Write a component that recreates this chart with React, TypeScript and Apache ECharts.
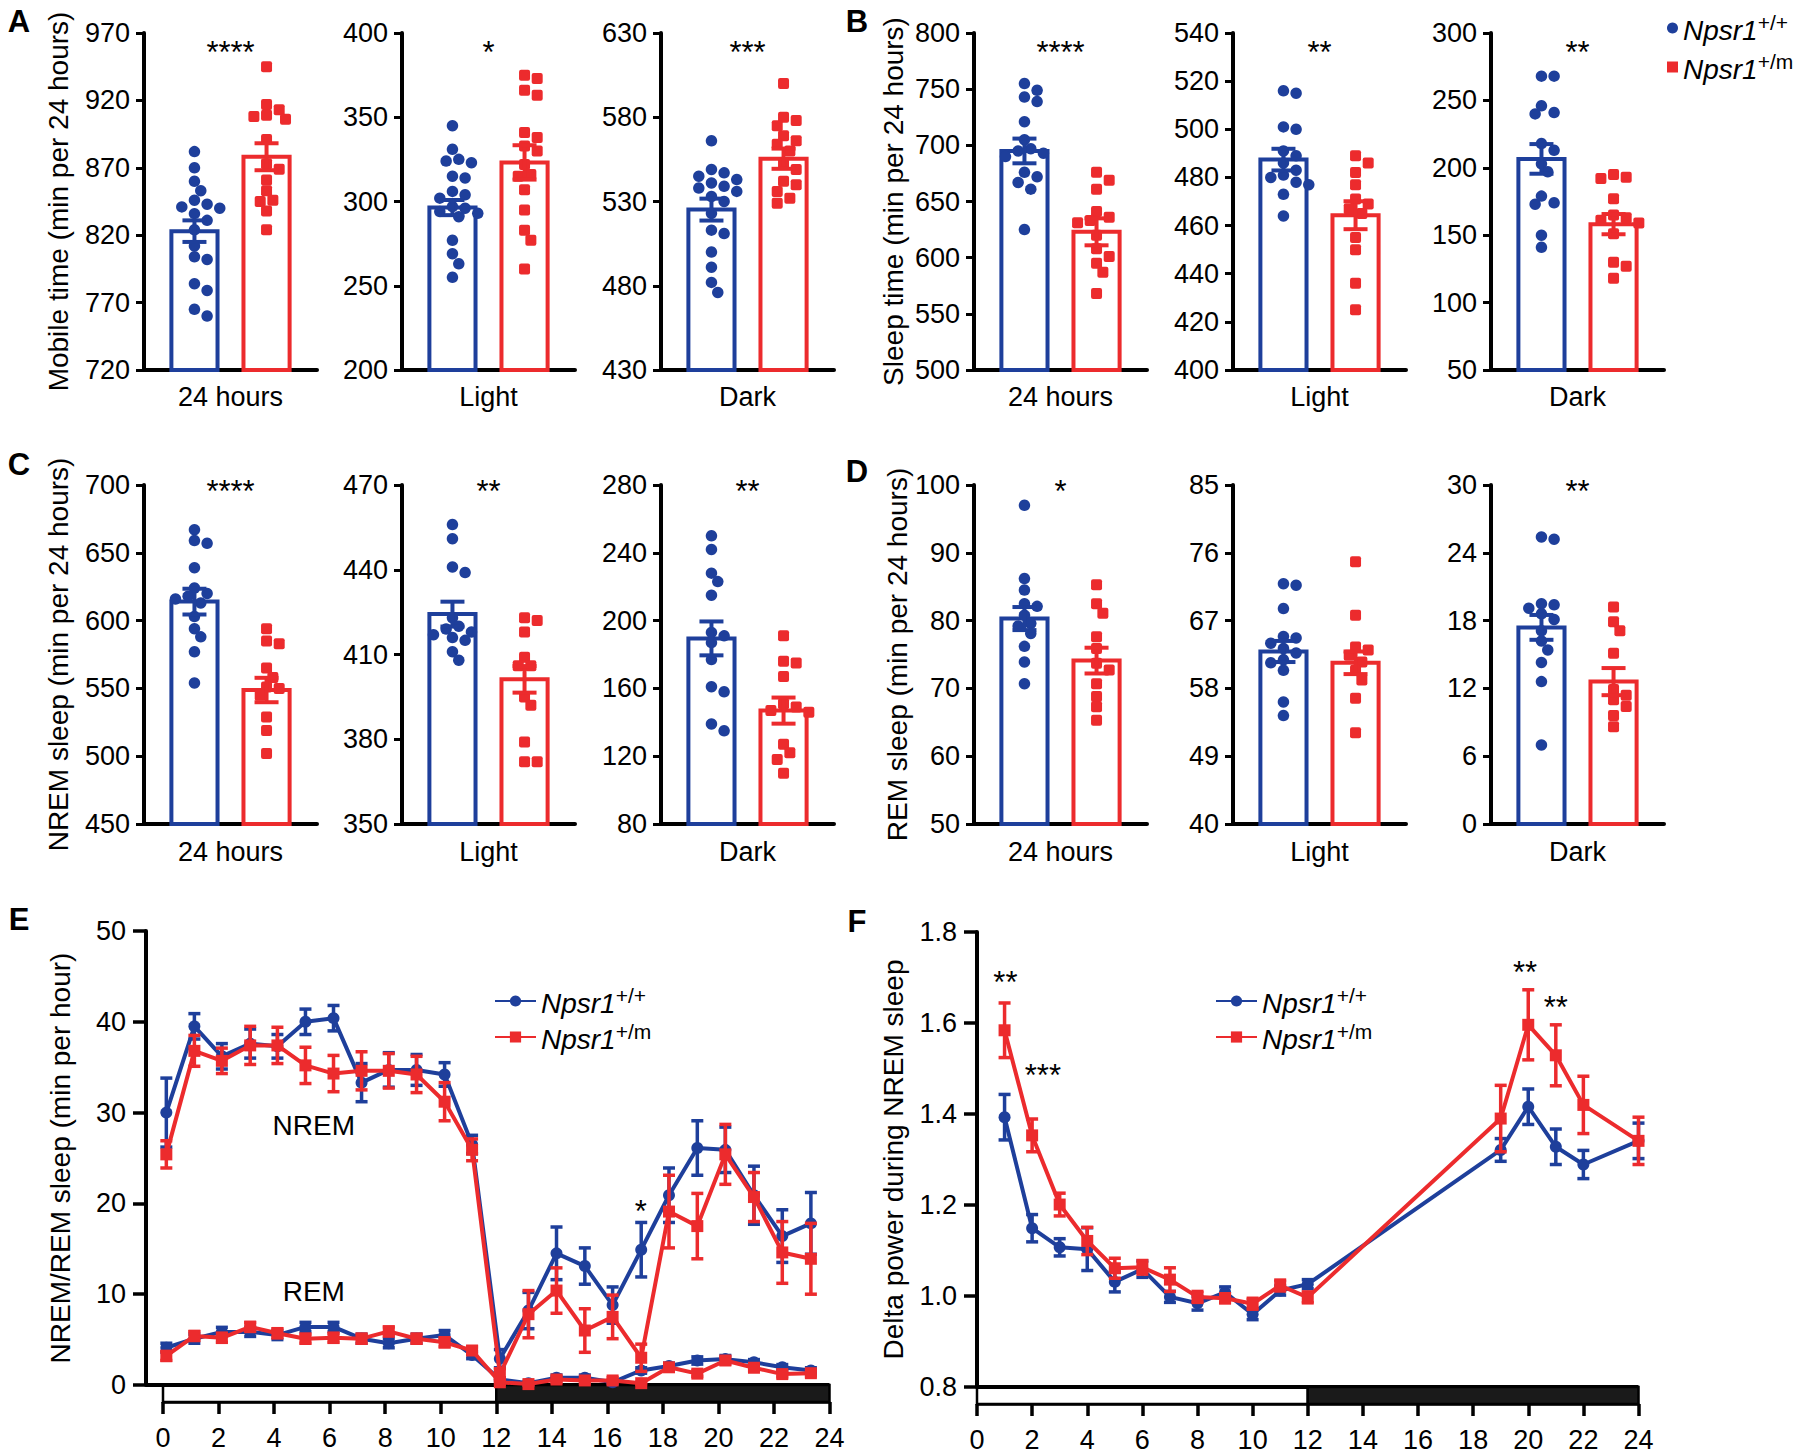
import React, { useEffect, useRef } from 'react';
import * as echarts from 'echarts';

const FONT = '"Liberation Sans", Arial, Helvetica, sans-serif';
const BLUE = '#1e3f9b';
const RED = '#ec2b2d';

const PERIODS = ['24 hours', 'Light', 'Dark'];

// ---------- Panel A: mobile time ----------
const A_TITLE = 'Mobile time (min per 24 hours)';
const A_MIN = [720, 200, 430];
const A_MAX = [970, 400, 630];
const A_STEP = [50, 50, 50];
const A_SIG = ['****', '*', '***'];
const A_WT_MEAN = [823, 296.4, 525.2];
const A_WT_SEM = [8, 4.5, 6.5];
const A_MUT_MEAN = [878.2, 323.2, 555.4];
const A_MUT_SEM = [10, 10.2, 6];
const A_WT_24H = [882, 870, 860, 853, 846, 843, 841, 840, 836, 831, 824, 812, 804, 802, 784, 779, 765, 760];
const A_MUT_24H = [945, 917, 913, 909, 908, 906, 891, 873, 869, 861, 853, 846, 845, 838, 824];
const A_WT_LIGHT = [345, 331, 325, 324, 323, 315, 314, 306, 304, 302, 297, 296, 294, 293, 291, 277, 269, 263, 255];
const A_MUT_LIGHT = [375, 373, 366, 363, 341, 338, 333, 330, 322, 316, 315, 307, 295, 283, 277, 260];
const A_WT_DARK = [566, 549, 547, 545, 543, 541, 539, 538, 536, 533, 530, 523, 513, 511, 500, 491, 482, 476];
const A_MUT_DARK = [600, 580, 578, 575, 569, 566, 564, 560, 553, 549, 542, 540, 536, 532, 529];

// ---------- Panel B: sleep time ----------
const B_TITLE = 'Sleep time (min per 24 hours)';
const B_MIN = [500, 400, 50];
const B_MAX = [800, 540, 300];
const B_STEP = [50, 20, 50];
const B_SIG = ['****', '**', '**'];
const B_WT_MEAN = [695, 487.4, 206.6];
const B_WT_SEM = [11, 4.5, 11];
const B_MUT_MEAN = [623, 464.3, 158.2];
const B_MUT_SEM = [12, 5.8, 7.5];
const B_WT_24H = [755, 749, 743, 739, 721, 705, 697, 695, 693, 690, 676, 672, 667, 661, 625];
const B_MUT_24H = [676, 669, 661, 641, 636, 633, 631, 620, 608, 601, 595, 587, 568];
const B_WT_LIGHT = [516, 515, 501, 500, 491, 489, 486, 483, 481, 480, 478, 477, 473, 464];
const B_MUT_LIGHT = [489, 486, 482, 477, 471, 469, 467, 465, 455, 450, 436, 425];
const B_WT_DARK = [268, 268, 246, 241, 240, 218, 213, 203, 197, 179, 174, 173, 150, 141];
const B_MUT_DARK = [195, 193, 192, 177, 165, 163, 161, 159, 151, 130, 127, 118];

// ---------- Panel C: NREM sleep ----------
const C_TITLE = 'NREM sleep (min per 24 hours)';
const C_MIN = [450, 350, 80];
const C_MAX = [700, 470, 280];
const C_STEP = [50, 30, 40];
const C_SIG = ['****', '**', '**'];
const C_WT_MEAN = [614, 424.3, 189.5];
const C_WT_SEM = [9.5, 4.4, 10];
const C_MUT_MEAN = [548.8, 401.2, 146.9];
const C_MUT_SEM = [9, 4.7, 7.7];
const C_WT_24H = [667, 659, 657, 639, 624, 620, 618, 616, 613, 603, 594, 588, 577, 554];
const C_MUT_24H = [594, 585, 583, 565, 558, 551, 550, 545, 529, 519, 502];
const C_WT_LIGHT = [456, 451, 441, 439, 423, 420, 419, 418, 417, 416, 415, 411, 408];
const C_MUT_LIGHT = [423, 422, 418, 409, 406, 406, 395, 392, 379, 372, 372];
const C_WT_DARK = [250, 242, 228, 223, 215, 193, 191, 187, 177, 161, 158, 139, 135];
const C_MUT_DARK = [191, 176, 175, 167, 151, 149, 147, 146, 127, 122, 118, 110];

// ---------- Panel D: REM sleep ----------
const D_TITLE = 'REM sleep (min per 24 hours)';
const D_MIN = [50, 40, 0];
const D_MAX = [100, 85, 30];
const D_STEP = [10, 9, 6];
const D_SIG = ['*', '', '**'];
const D_WT_MEAN = [80.3, 62.9, 17.4];
const D_WT_SEM = [1.7, 1.4, 1.1];
const D_MUT_MEAN = [74.1, 61.4, 12.6];
const D_MUT_SEM = [1.9, 1.5, 1.2];
const D_WT_24H = [97, 86.2, 84.5, 82.5, 82.1, 80.8, 79.6, 79.2, 78.1, 76.2, 73.9, 70.7];
const D_MUT_24H = [85.3, 82.5, 81.1, 77.6, 75.9, 73.7, 72.7, 70.7, 68.8, 67.3, 65.3];
const D_WT_LIGHT = [71.9, 71.7, 68.6, 64.9, 64.7, 64, 63.3, 62.7, 61.8, 61.4, 60.4, 56.2, 54.4];
const D_MUT_LIGHT = [74.8, 67.7, 63.5, 63.1, 62.4, 61.5, 60.4, 59.1, 56.7, 52.1];
const D_WT_DARK = [25.4, 25.2, 19.5, 19.4, 19.1, 18.6, 18.1, 17.1, 16.2, 15.4, 14.3, 12.6, 7.0];
const D_MUT_DARK = [19.2, 17.9, 17.1, 15.1, 11.9, 11.4, 11.0, 10.4, 9.6, 8.6];

// ---------- Panel E: hourly NREM / REM ----------
const E_TITLE = 'NREM/REM sleep (min per hour)';
const E_HOURS = [0.12, 1.13, 2.12, 3.14, 4.12, 5.13, 6.14, 7.15, 8.13, 9.13, 10.14, 11.13, 12.13, 13.16, 14.17, 15.19, 16.19, 17.22, 18.22, 19.24, 20.25, 21.28, 22.3, 23.33];
const E_WT_NREM = [30.0, 39.5, 36.2, 37.6, 37.3, 40.0, 40.4, 33.3, 34.7, 34.7, 34.2, 26.5, 2.9, 8.2, 14.5, 13.1, 8.8, 14.9, 20.9, 26.1, 25.9, 20.9, 16.4, 17.8];
const E_WT_NREM_SEM = [3.8, 1.4, 1.4, 1.6, 1.3, 1.4, 1.4, 2.1, 1.9, 1.7, 1.3, 1.0, 1.0, 2.0, 2.9, 2.0, 2.0, 3.0, 3.0, 3.0, 2.5, 3.2, 2.9, 3.4];
const E_MUT_NREM = [25.4, 36.8, 35.7, 37.4, 37.4, 35.2, 34.3, 34.6, 34.6, 34.2, 31.2, 25.9, 1.2, 7.8, 10.4, 6.0, 7.5, 3.0, 19.1, 17.5, 25.4, 20.7, 14.6, 13.9];
const E_MUT_NREM_SEM = [1.5, 1.7, 1.4, 2.1, 2.0, 2.0, 2.0, 2.1, 1.9, 2.0, 2.1, 1.2, 0.6, 2.6, 2.5, 2.4, 2.4, 1.5, 4.0, 3.6, 3.3, 2.7, 3.4, 3.9];
const E_WT_REM = [4.1, 5.1, 5.85, 5.85, 5.5, 6.4, 6.4, 5.1, 4.6, 5.1, 5.5, 3.3, 0.6, 0.2, 0.8, 0.8, 0.3, 1.6, 2.1, 2.7, 2.85, 2.5, 1.95, 1.6];
const E_WT_REM_SEM = [0.5, 0.5, 0.5, 0.5, 0.5, 0.5, 0.5, 0.5, 0.5, 0.5, 0.5, 0.4, 0.2, 0.2, 0.3, 0.3, 0.2, 0.3, 0.3, 0.4, 0.4, 0.3, 0.3, 0.3];
const E_MUT_REM = [3.2, 5.4, 5.2, 6.4, 5.7, 5.1, 5.2, 5.1, 5.9, 5.1, 4.7, 3.8, 0.3, 0.1, 0.6, 0.5, 0.5, 0.2, 1.95, 1.25, 2.7, 1.9, 1.2, 1.3];
const E_MUT_REM_SEM = [0.5, 0.5, 0.5, 0.5, 0.5, 0.5, 0.5, 0.5, 0.5, 0.5, 0.5, 0.4, 0.2, 0.1, 0.3, 0.3, 0.3, 0.1, 0.3, 0.3, 0.4, 0.3, 0.3, 0.3];

// ---------- Panel F: delta power ----------
const F_TITLE = 'Delta power during NREM sleep';
const F_HOURS = [1, 2, 3, 4, 5, 6, 7, 8, 9, 10, 11, 12, 19, 20, 21, 22, 24];
const F_WT = [1.393, 1.149, 1.107, 1.103, 1.031, 1.059, 0.998, 0.984, 1.008, 0.960, 1.012, 1.026, 1.321, 1.416, 1.328, 1.289, 1.341];
const F_WT_SEM = [0.05, 0.03, 0.019, 0.047, 0.022, 0.018, 0.012, 0.015, 0.012, 0.012, 0.01, 0.01, 0.025, 0.039, 0.039, 0.031, 0.039];
const F_MUT = [1.584, 1.353, 1.201, 1.121, 1.061, 1.063, 1.036, 0.998, 0.995, 0.983, 1.023, 0.997, 1.390, 1.596, 1.529, 1.420, 1.341];
const F_MUT_SEM = [0.06, 0.036, 0.025, 0.03, 0.022, 0.015, 0.026, 0.012, 0.01, 0.012, 0.012, 0.012, 0.073, 0.077, 0.067, 0.063, 0.052];

// light / dark phases (start hour, end hour, dark flag)
const LD_PHASES = [[0, 12, 0], [12, 24, 1]];

// annotation layout (data coordinates of the texts)
const E_NOTES = [
  { text: 'NREM', x: 5.43, y: 28.6, star: false },
  { text: 'REM', x: 5.43, y: 10.35, star: false },
  { text: '*', x: 17.2, y: 19.9, star: true },
];
const F_NOTES = [
  { text: '**', x: 1.03, y: 1.705, star: true },
  { text: '***', x: 2.39, y: 1.499, star: true },
  { text: '**', x: 19.88, y: 1.726, star: true },
  { text: '**', x: 21.0, y: 1.65, star: true },
];

const PANELS = [
  { title: A_TITLE, min: A_MIN, max: A_MAX, step: A_STEP, sig: A_SIG, wtMean: A_WT_MEAN, wtSem: A_WT_SEM, mutMean: A_MUT_MEAN, mutSem: A_MUT_SEM, wtDots: [A_WT_24H, A_WT_LIGHT, A_WT_DARK], mutDots: [A_MUT_24H, A_MUT_LIGHT, A_MUT_DARK], row: 0, col: 0, nameGap: 72 },
  { title: B_TITLE, min: B_MIN, max: B_MAX, step: B_STEP, sig: B_SIG, wtMean: B_WT_MEAN, wtSem: B_WT_SEM, mutMean: B_MUT_MEAN, mutSem: B_MUT_SEM, wtDots: [B_WT_24H, B_WT_LIGHT, B_WT_DARK], mutDots: [B_MUT_24H, B_MUT_LIGHT, B_MUT_DARK], row: 0, col: 3, nameGap: 67 },
  { title: C_TITLE, min: C_MIN, max: C_MAX, step: C_STEP, sig: C_SIG, wtMean: C_WT_MEAN, wtSem: C_WT_SEM, mutMean: C_MUT_MEAN, mutSem: C_MUT_SEM, wtDots: [C_WT_24H, C_WT_LIGHT, C_WT_DARK], mutDots: [C_MUT_24H, C_MUT_LIGHT, C_MUT_DARK], row: 1, col: 0, nameGap: 72 },
  { title: D_TITLE, min: D_MIN, max: D_MAX, step: D_STEP, sig: D_SIG, wtMean: D_WT_MEAN, wtSem: D_WT_SEM, mutMean: D_MUT_MEAN, mutSem: D_MUT_SEM, wtDots: [D_WT_24H, D_WT_LIGHT, D_WT_DARK], mutDots: [D_MUT_24H, D_MUT_LIGHT, D_MUT_DARK], row: 1, col: 3, nameGap: 63 },
];

// ---------- layout ----------
const COL_X = [144, 402, 661, 974, 1233, 1491];
const ROW_TOP = [33, 485];
const ROW_H = [337, 339];
const GRID_W = 173;
const X_MIN = -0.7;
const X_MAX = 1.7;
const BAR_W = 0.64;
const DOT = 11.5;
const SQ = 11;
const SIG_DY = [19.5, 6];
const LD_H = 17;
const E_YOFF = 17;
const TICK_FS = 27;
const CAT_FS = 27;
const TITLE_FS = 28;
const NOTE_FS = 28;
const STAR_FS = 31;

function beeswarm(cx: number, ys: number[]): number[] {
  const step = DOT * 0.55;
  const order = ys.map((_, i) => i).sort((a, b) => ys[a] - ys[b]);
  const placed: number[][] = [];
  const xs: number[] = new Array(ys.length).fill(cx);
  for (const i of order) {
    const y = ys[i];
    let x = cx;
    for (let k = 0; k < 40; k++) {
      const off = (k % 2 === 1 ? 1 : -1) * Math.ceil(k / 2) * step;
      const tx = cx + off;
      if (placed.every((p) => Math.hypot(p[0] - tx, p[1] - y) >= DOT * 0.88)) {
        x = tx;
        break;
      }
    }
    placed.push([x, y]);
    xs[i] = x;
  }
  return xs;
}

function seg(x1: number, y1: number, x2: number, y2: number, color: string, w: number) {
  return { type: 'line', shape: { x1, y1, x2, y2 }, style: { stroke: color, lineWidth: w } };
}

function barSeries(P: any, k: number, g: number, gi: number) {
  const color = g === 0 ? BLUE : RED;
  const mean = g === 0 ? P.wtMean[k] : P.mutMean[k];
  const sem = g === 0 ? P.wtSem[k] : P.mutSem[k];
  const dots = g === 0 ? P.wtDots[k] : P.mutDots[k];
  const ymin = P.min[k];
  const ymax = P.max[k];
  const sig = P.sig[k];
  return {
    type: 'custom',
    name: g === 0 ? 'bar_wt' : 'bar_mut',
    xAxisIndex: gi,
    yAxisIndex: gi,
    clip: false,
    silent: true,
    itemStyle: { color },
    data: [[g, mean, sem]],
    renderItem: (params: any, api: any) => {
      const gx = api.value(0);
      const m = api.value(1);
      const e = api.value(2);
      const base = api.coord([gx, ymin]);
      const top = api.coord([gx, m]);
      const w = api.size([BAR_W, 0])[0];
      const children: any[] = [];
      children.push({
        type: 'rect',
        shape: { x: base[0] - w / 2, y: top[1], width: w, height: base[1] - top[1] },
        style: { fill: '#ffffff', stroke: color, lineWidth: 4 },
      });
      const ys = dots.map((v: number) => api.coord([gx, v])[1]);
      const xs = beeswarm(base[0], ys);
      ys.forEach((y: number, i: number) => {
        if (g === 0) {
          children.push({ type: 'circle', shape: { cx: xs[i], cy: y, r: DOT / 2 }, style: { fill: color } });
        } else {
          children.push({ type: 'rect', shape: { x: xs[i] - SQ / 2, y: y - SQ / 2, width: SQ, height: SQ, r: 2 }, style: { fill: color } });
        }
      });
      const hi = api.coord([gx, m + e])[1];
      const lo = api.coord([gx, m - e])[1];
      const cw = 12;
      children.push(seg(base[0], hi, base[0], lo, color, 4));
      children.push(seg(base[0] - cw, hi, base[0] + cw, hi, color, 4));
      children.push(seg(base[0] - cw, lo, base[0] + cw, lo, color, 4));
      if (g === 0 && sig) {
        const c = api.coord([(X_MIN + X_MAX) / 2, ymax]);
        children.push({
          type: 'text',
          x: c[0],
          y: c[1] + SIG_DY[P.row],
          style: { text: sig, font: `${STAR_FS}px ${FONT}`, fill: '#000', align: 'center', verticalAlign: 'middle', textAlign: 'center', textVerticalAlign: 'middle' },
        });
      }
      return { type: 'group', children };
    },
  };
}

function lineSeries(name: string, gi: number, xs: number[], ys: number[], color: string, symbol: string, z: number) {
  return {
    type: 'line',
    name,
    xAxisIndex: gi,
    yAxisIndex: gi,
    data: xs.map((x, i) => [x, ys[i]]),
    symbol,
    symbolSize: 12,
    showSymbol: true,
    lineStyle: { color, width: 4 },
    itemStyle: { color },
    z,
    silent: true,
  };
}

function errSeries(gi: number, xs: number[], ys: number[], es: number[], color: string, z: number) {
  return {
    type: 'custom',
    name: 'err',
    xAxisIndex: gi,
    yAxisIndex: gi,
    z,
    clip: false,
    silent: true,
    data: xs.map((x, i) => [x, ys[i], es[i]]),
    renderItem: (params: any, api: any) => {
      const x = api.value(0);
      const m = api.value(1);
      const e = api.value(2);
      const hi = api.coord([x, m + e]);
      const lo = api.coord([x, m - e]);
      const cw = 6;
      return {
        type: 'group',
        children: [
          seg(hi[0], hi[1], lo[0], lo[1], color, 3.5),
          seg(hi[0] - cw, hi[1], hi[0] + cw, hi[1], color, 3.5),
          seg(lo[0] - cw, lo[1], lo[0] + cw, lo[1], color, 3.5),
        ],
      };
    },
  };
}

function ldSeries(gi: number, ymin: number, yoff: number) {
  return {
    type: 'custom',
    name: 'ld',
    xAxisIndex: gi,
    yAxisIndex: gi,
    z: 1,
    clip: false,
    silent: true,
    data: LD_PHASES,
    renderItem: (params: any, api: any) => {
      const x0 = api.value(0);
      const x1 = api.value(1);
      const dark = api.value(2);
      const p0 = api.coord([x0, ymin]);
      const p1 = api.coord([x1, ymin]);
      const children: any[] = [
        {
          type: 'rect',
          shape: { x: p0[0], y: p0[1], width: p1[0] - p0[0], height: LD_H },
          style: { fill: dark ? '#1a1a1a' : '#ffffff', stroke: '#000', lineWidth: 2.5 },
        },
      ];
      if (!dark) {
        const pe = api.coord([LD_PHASES[LD_PHASES.length - 1][1], ymin]);
        children.push(seg(p0[0] - yoff, p0[1], pe[0], p0[1], '#000', 4));
      }
      return { type: 'group', children };
    },
  };
}

function noteSeries(gi: number, notes: any[]) {
  return {
    type: 'custom',
    name: 'notes',
    xAxisIndex: gi,
    yAxisIndex: gi,
    z: 5,
    clip: false,
    silent: true,
    data: notes.map((n, i) => [n.x, n.y, i]),
    renderItem: (params: any, api: any) => {
      const n = notes[api.value(2)];
      const c = api.coord([api.value(0), api.value(1)]);
      const fs = n.star ? STAR_FS : NOTE_FS;
      return {
        type: 'text',
        x: c[0],
        y: c[1] + (n.star ? 7 : 0),
        style: { text: n.text, font: `${fs}px ${FONT}`, fill: '#000', align: 'center', verticalAlign: 'middle', textAlign: 'center', textVerticalAlign: 'middle' },
      };
    },
  };
}

const LEGEND_RICH = {
  i: { fontFamily: FONT, fontSize: 28, fontStyle: 'italic', color: '#000', lineHeight: 32, verticalAlign: 'bottom' },
  s: { fontFamily: FONT, fontSize: 21, color: '#000', lineHeight: 21, verticalAlign: 'top' },
};
const legendFmt = (name: string) => (name.endsWith('wt') ? '{i|Npsr1}{s|+/+}' : '{i|Npsr1}{s|+/m}');

function buildOption() {
  const grid: any[] = [];
  const xAxis: any[] = [];
  const yAxis: any[] = [];
  const series: any[] = [];
  const tickText = { fontFamily: FONT, fontSize: TICK_FS, color: '#000' };
  const catText = { fontFamily: FONT, fontSize: CAT_FS, color: '#000' };
  const titleText = { fontFamily: FONT, fontSize: TITLE_FS, color: '#000' };

  PANELS.forEach((P, p) => {
    for (let k = 0; k < 3; k++) {
      const gi = p * 3 + k;
      grid.push({ left: COL_X[P.col + k], top: ROW_TOP[P.row], width: GRID_W, height: ROW_H[P.row], outerBoundsMode: 'none', containLabel: false });
      xAxis.push({
        gridIndex: gi,
        type: 'value',
        min: X_MIN,
        max: X_MAX,
        axisLine: { show: true, onZero: false, lineStyle: { color: '#000', width: 4 } },
        axisTick: { show: false },
        axisLabel: { show: false },
        splitLine: { show: false },
        name: PERIODS[k],
        nameLocation: 'middle',
        nameGap: P.row === 0 ? 13.5 : 14.5,
        nameMoveOverlap: false,
        nameTextStyle: catText,
      });
      yAxis.push({
        gridIndex: gi,
        type: 'value',
        min: P.min[k],
        max: P.max[k],
        interval: P.step[k],
        axisLine: { show: true, onZero: false, lineStyle: { color: '#000', width: 4 } },
        axisTick: { show: true, length: 8, lineStyle: { color: '#000', width: 3 } },
        axisLabel: { margin: 14, ...tickText },
        splitLine: { show: false },
        name: k === 0 ? P.title : '',
        nameLocation: 'middle',
        nameGap: P.nameGap,
        nameMoveOverlap: false,
        nameTextStyle: titleText,
      });
      series.push(barSeries(P, k, 0, gi));
      series.push(barSeries(P, k, 1, gi));
    }
  });

  // Panel E (grid 12) and F (grid 13)
  const lineGrids = [
    { left: 163, top: 931, width: 666.5, height: 454, ymin: 0, ymax: 50, step: 10, title: E_TITLE, yoff: E_YOFF, nameGap: 72, dec: 0 },
    { left: 977, top: 932, width: 661.5, height: 455, ymin: 0.8, ymax: 1.8, step: 0.2, title: F_TITLE, yoff: 0, nameGap: 70, dec: 1 },
  ];
  lineGrids.forEach((L, j) => {
    const gi = 12 + j;
    grid.push({ left: L.left, top: L.top, width: L.width, height: L.height, outerBoundsMode: 'none', containLabel: false });
    xAxis.push({
      gridIndex: gi,
      type: 'value',
      min: 0,
      max: 24,
      interval: 2,
      offset: LD_H,
      axisLine: { show: true, onZero: false, lineStyle: { color: '#000', width: 2.5 } },
      axisTick: { show: true, length: 12, lineStyle: { color: '#000', width: 3.5 } },
      axisLabel: { margin: 22, ...tickText },
      splitLine: { show: false },
    });
    yAxis.push({
      gridIndex: gi,
      type: 'value',
      min: L.ymin,
      max: L.ymax,
      interval: L.step,
      offset: L.yoff,
      axisLine: { show: true, onZero: false, lineStyle: { color: '#000', width: 4 } },
      axisTick: { show: true, length: 13, lineStyle: { color: '#000', width: 3.5 } },
      axisLabel: { margin: 20, ...tickText, formatter: (v: number) => v.toFixed(L.dec) },
      splitLine: { show: false },
      name: L.title,
      nameLocation: 'middle',
      nameGap: L.nameGap,
      nameMoveOverlap: false,
      nameTextStyle: titleText,
    });
    series.push(ldSeries(gi, L.ymin, L.yoff));
  });

  // E series
  series.push(errSeries(12, E_HOURS, E_WT_NREM, E_WT_NREM_SEM, BLUE, 3));
  series.push(errSeries(12, E_HOURS, E_WT_REM, E_WT_REM_SEM, BLUE, 3));
  series.push(lineSeries('E_wt', 12, E_HOURS, E_WT_NREM, BLUE, 'circle', 3));
  series.push(lineSeries('E_wt', 12, E_HOURS, E_WT_REM, BLUE, 'circle', 3));
  series.push(errSeries(12, E_HOURS, E_MUT_NREM, E_MUT_NREM_SEM, RED, 4));
  series.push(errSeries(12, E_HOURS, E_MUT_REM, E_MUT_REM_SEM, RED, 4));
  series.push(lineSeries('E_mut', 12, E_HOURS, E_MUT_NREM, RED, 'rect', 4));
  series.push(lineSeries('E_mut', 12, E_HOURS, E_MUT_REM, RED, 'rect', 4));
  series.push(noteSeries(12, E_NOTES));

  // F series
  series.push(errSeries(13, F_HOURS, F_WT, F_WT_SEM, BLUE, 3));
  series.push(lineSeries('F_wt', 13, F_HOURS, F_WT, BLUE, 'circle', 3));
  series.push(errSeries(13, F_HOURS, F_MUT, F_MUT_SEM, RED, 4));
  series.push(lineSeries('F_mut', 13, F_HOURS, F_MUT, RED, 'rect', 4));
  series.push(noteSeries(13, F_NOTES));

  const legendBase = {
    orient: 'vertical',
    selectedMode: false,
    formatter: legendFmt,
    textStyle: { fontFamily: FONT, fontSize: 28, color: '#000', rich: LEGEND_RICH },
  };

  const legend = [
    {
      ...legendBase,
      left: 1662,
      top: 7,
      itemGap: 7,
      itemWidth: 11,
      itemHeight: 11,
      data: [
        { name: 'bar_wt', icon: 'circle', itemStyle: { color: BLUE } },
        { name: 'bar_mut', icon: 'rect', itemStyle: { color: RED } },
      ],
    },
    { ...legendBase, left: 489, top: 980, itemGap: 4, itemWidth: 41, itemHeight: 14, data: ['E_wt', 'E_mut'] },
    { ...legendBase, left: 1210, top: 980, itemGap: 4, itemWidth: 41, itemHeight: 14, data: ['F_wt', 'F_mut'] },
  ];

  const letter = (t: string, x: number, y: number) => ({
    type: 'text',
    x,
    y,
    style: { text: t, font: `bold 31px ${FONT}`, fill: '#000', align: 'center', verticalAlign: 'middle', textAlign: 'center', textVerticalAlign: 'middle' },
  });

  return {
    animation: false,
    backgroundColor: '#ffffff',
    grid,
    xAxis,
    yAxis,
    legend,
    series,
    graphic: [
      letter('A', 19, 21),
      letter('B', 857, 21),
      letter('C', 19, 464),
      letter('D', 857, 471),
      letter('E', 19, 919),
      letter('F', 857, 921),
    ],
  };
}

export default function App() {
  const ref = useRef<HTMLDivElement>(null);
  useEffect(() => {
    const chart = echarts.init(ref.current as HTMLDivElement, null, { renderer: 'svg' });
    chart.setOption(buildOption() as any);
    return () => chart.dispose();
  }, []);
  return (
    <div
      ref={ref}
      style={{ position: 'absolute', left: 0, top: 0, width: 1800, height: 1455, background: '#ffffff' }}
    />
  );
}
